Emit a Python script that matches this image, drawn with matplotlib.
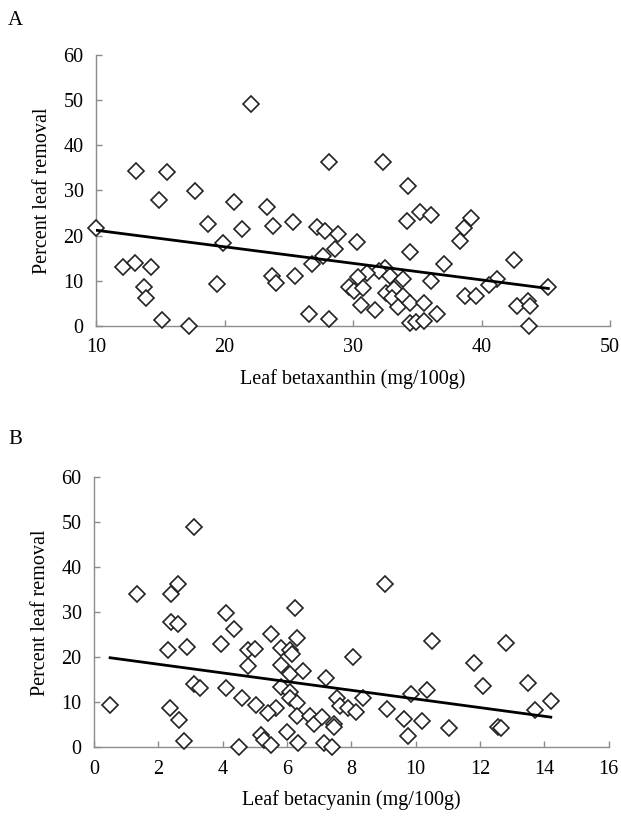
import matplotlib
matplotlib.use("Agg")
import matplotlib.pyplot as plt

plt.rcParams['font.family'] = ['Liberation Serif', 'DejaVu Serif']

# Panel A: leaf betaxanthin vs percent leaf removal
betaxanthin = [10.0, 22.1, 13.1, 15.5, 17.7, 14.9, 20.7, 23.3, 18.7, 23.8,
               25.3, 21.4, 27.2, 27.8, 28.8, 28.1, 19.9, 28.6, 27.7, 26.8,
               12.1, 13.0, 14.3, 13.7, 13.9, 19.4, 23.7, 24.0, 25.5, 26.6,
               28.1, 15.1, 17.2, 29.7, 30.1, 30.3, 32.3, 34.3, 35.2, 36.1,
               34.2, 39.2, 38.6, 38.3, 34.4, 37.1, 42.5, 32.5, 32.0, 31.1,
               30.4, 32.9, 33.9, 36.1, 41.2, 40.6, 45.2, 30.8, 32.6, 33.2,
               33.0, 33.9, 33.5, 34.4, 35.5, 38.7, 39.6, 30.6, 31.7, 36.5,
               34.4, 34.9, 35.5, 42.8, 43.6, 43.8, 43.7]
removal_a = [21.6, 49.1, 34.3, 34.0, 29.9, 27.9, 27.5, 26.4, 22.5, 22.1,
             23.0, 21.4, 21.9, 21.0, 20.3, 36.2, 18.3, 17.0, 15.5, 13.7,
             13.1, 13.9, 13.1, 8.7, 6.2, 9.3, 11.0, 9.6, 11.1, 2.7,
             1.6, 1.3, 0.0, 8.6, 7.7, 18.5, 36.2, 31.0, 25.2, 24.6,
             23.2, 23.8, 21.6, 18.9, 16.4, 13.7, 14.5, 12.9, 12.2, 11.8,
             10.8, 11.1, 10.4, 10.0, 10.4, 9.1, 8.6, 8.4, 7.2, 8.1,
             6.1, 6.6, 4.3, 5.1, 5.1, 6.7, 6.7, 4.6, 3.6, 2.6,
             0.6, 0.9, 1.1, 4.5, 5.6, 4.4, 0.1]
trend_a_x = [10.0, 45.2]
trend_a_y = [21.2, 8.3]

# Panel B: leaf betacyanin vs percent leaf removal
betacyanin = [0.5, 3.1, 1.35, 2.4, 2.6, 2.4, 2.6, 2.3, 2.9, 3.1,
              3.3, 2.35, 2.65, 2.8, 4.1, 4.35, 3.95, 4.1, 4.6, 4.5,
              4.8, 5.0, 4.8, 5.05, 5.5, 5.8, 6.1, 6.15, 6.25, 6.3,
              5.8, 6.1, 6.5, 5.8, 6.1, 6.1, 6.3, 5.65, 5.4, 6.3,
              6.7, 6.85, 7.1, 7.2, 7.55, 7.65, 7.9, 8.15, 7.45, 7.45,
              5.2, 5.27, 5.5, 6.0, 6.35, 7.15, 7.4, 8.05, 9.05, 10.5,
              12.8, 11.8, 12.1, 13.5, 10.35, 9.85, 8.37, 14.2, 13.7, 9.1,
              9.65, 10.2, 11.05, 9.75, 12.55, 12.65]
removal_b = [9.3, 49.0, 34.1, 34.1, 36.2, 27.8, 27.4, 21.6, 22.4, 14.0,
             13.1, 8.7, 6.1, 1.3, 29.8, 26.2, 23.0, 13.1, 11.0, 0.0,
             21.6, 21.8, 18.1, 9.4, 25.1, 22.1, 21.7, 20.8, 30.9, 24.4,
             18.4, 16.3, 17.0, 13.5, 12.3, 10.9, 9.8, 8.8, 7.6, 7.0,
             6.9, 5.2, 6.7, 15.4, 11.0, 9.2, 8.7, 7.9, 5.2, 4.5,
             2.8, 1.6, 0.5, 3.5, 0.9, 1.0, 0.0, 20.1, 36.3, 23.7,
             23.1, 18.8, 13.6, 14.4, 12.7, 11.8, 11.0, 10.2, 8.4, 8.6,
             6.2, 5.9, 4.2, 2.5, 4.6, 4.3]
trend_b_x = [0.5, 14.2]
trend_b_y = [19.9, 6.7]

y_ticks = [0, 10, 20, 30, 40, 50, 60]


def style_axis(ax, xlim, xticks, xlabel):
    ax.set_xlim(*xlim)
    ax.set_ylim(0, 60)
    ax.set_xticks(xticks)
    ax.set_yticks(y_ticks)
    for side in ["top", "right"]:
        ax.spines[side].set_visible(False)
    for side in ["left", "bottom"]:
        ax.spines[side].set_color("#8c8c8c")
        ax.spines[side].set_linewidth(1.0)
    ax.tick_params(direction="in", length=4, width=1.0, color="#8c8c8c",
                   labelsize=14.5, pad=9, labelcolor="black")
    ax.set_xlabel(xlabel, fontsize=14.5, labelpad=8)
    ax.set_ylabel("Percent leaf removal", fontsize=14.5, labelpad=8)


fig = plt.figure(figsize=(6.21, 8.17), dpi=100)
ax_a = fig.add_axes([0.1546, 0.601, 0.8277, 0.3317])
ax_b = fig.add_axes([0.1514, 0.0853, 0.8288, 0.3305])

marker_kw = dict(marker="D", markersize=8.5, markerfacecolor="white",
                 markeredgecolor="#222222", markeredgewidth=1.2,
                 linestyle="none", clip_on=False, zorder=3)

ax_a.plot(betaxanthin, removal_a, **marker_kw)
ax_a.plot(trend_a_x, trend_a_y, color="black", linewidth=2.0, zorder=4)
style_axis(ax_a, (10, 50), [10, 20, 30, 40, 50], "Leaf betaxanthin (mg/100g)")

ax_b.plot(betacyanin, removal_b, **marker_kw)
ax_b.plot(trend_b_x, trend_b_y, color="black", linewidth=2.0, zorder=4)
style_axis(ax_b, (0, 16), [0, 2, 4, 6, 8, 10, 12, 14, 16], "Leaf betacyanin (mg/100g)")

fig.text(0.013, 0.975, "A", fontsize=15, va="center", ha="left")
fig.text(0.013, 0.462, "B", fontsize=15, va="center", ha="left")

fig.savefig("out.png", dpi=100)
